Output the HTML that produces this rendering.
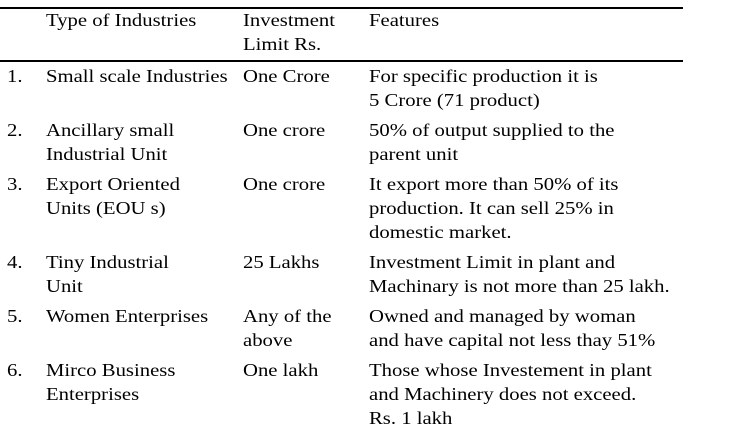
<!DOCTYPE html>
<html><head><style>
body{margin:0;width:733px;height:429px;background:#fff;position:relative;overflow:hidden;font-family:"Liberation Serif",serif;font-size:18px;color:#000}
.t{position:absolute;line-height:24px;white-space:nowrap;transform:scaleX(1.15);transform-origin:0 0}
.l{position:absolute;left:0;width:683px;height:2px;background:#000}
</style></head><body>
<div class="l" style="top:7px"></div>
<div class="l" style="top:60px"></div>
<div class="t" style="left:46px;top:8px">Type of Industries</div>
<div class="t" style="left:243px;top:8px">Investment<br>Limit Rs.</div>
<div class="t" style="left:369px;top:8px">Features</div>

<div class="t" style="left:7px;top:64px">1.</div>
<div class="t" style="left:46px;top:64px">Small scale Industries</div>
<div class="t" style="left:243px;top:64px">One Crore</div>
<div class="t" style="left:369px;top:64px">For specific production it is<br>5 Crore (71 product)</div>

<div class="t" style="left:7px;top:118px">2.</div>
<div class="t" style="left:46px;top:118px">Ancillary small<br>Industrial Unit</div>
<div class="t" style="left:243px;top:118px">One crore</div>
<div class="t" style="left:369px;top:118px">50% of output supplied to the<br>parent unit</div>

<div class="t" style="left:7px;top:172px">3.</div>
<div class="t" style="left:46px;top:172px">Export Oriented<br>Units (EOU s)</div>
<div class="t" style="left:243px;top:172px">One crore</div>
<div class="t" style="left:369px;top:172px">It export more than 50% of its<br>production. It can sell 25% in<br>domestic market.</div>

<div class="t" style="left:7px;top:250px">4.</div>
<div class="t" style="left:46px;top:250px">Tiny Industrial<br>Unit</div>
<div class="t" style="left:243px;top:250px">25 Lakhs</div>
<div class="t" style="left:369px;top:250px">Investment Limit in plant and<br>Machinary is not more than 25 lakh.</div>

<div class="t" style="left:7px;top:304px">5.</div>
<div class="t" style="left:46px;top:304px">Women Enterprises</div>
<div class="t" style="left:243px;top:304px">Any of the<br>above</div>
<div class="t" style="left:369px;top:304px">Owned and managed by woman<br>and have capital not less thay 51%</div>

<div class="t" style="left:7px;top:358px">6.</div>
<div class="t" style="left:46px;top:358px">Mirco Business<br>Enterprises</div>
<div class="t" style="left:243px;top:358px">One lakh</div>
<div class="t" style="left:369px;top:358px">Those whose Investement in plant<br>and Machinery does not exceed.<br>Rs. 1 lakh</div>
</body></html>
